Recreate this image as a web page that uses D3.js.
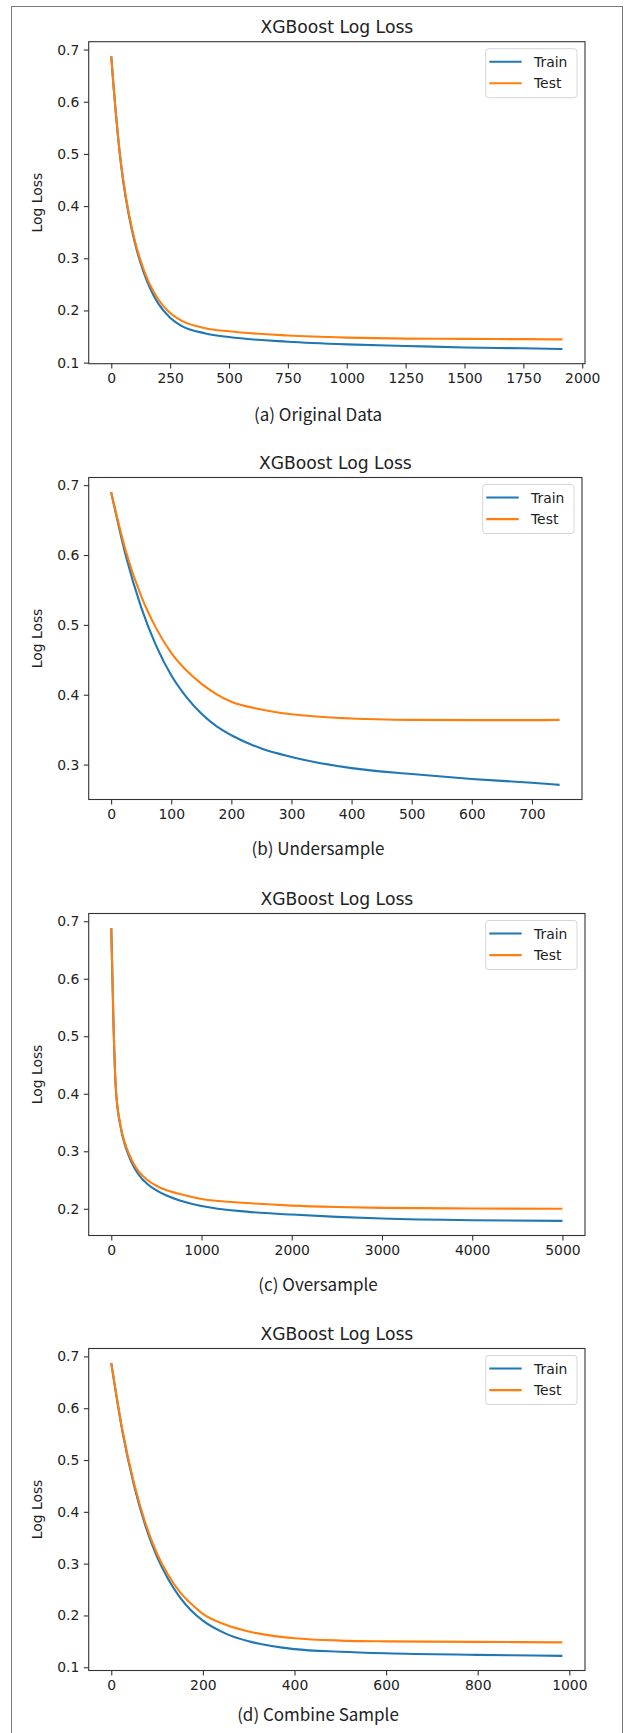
<!DOCTYPE html>
<html>
<head>
<meta charset="utf-8">
<script src="https://cdn.jsdelivr.net/npm/d3@7"></script>
<style>
  body { margin: 0; background: #fff; }
  svg { display: block; }
  text { font-family: "DejaVu Sans", sans-serif; fill: #222; }
  .caption { font-family: "Noto Sans CJK KR", "Noto Sans", sans-serif; }
</style>
</head>
<body>
<svg id="fig" width="624" height="1733"></svg>
<script>
// values (iteration, log loss)
var iterA  = [0, 10, 20, 35, 50, 75, 100, 125, 150, 175, 200, 250, 300, 400, 500, 750, 1000, 1250, 1500, 1750, 1916];
var trainA = [0.687, 0.628, 0.575, 0.505, 0.450, 0.382, 0.330, 0.290, 0.258, 0.233, 0.213, 0.186, 0.170, 0.156, 0.149, 0.140, 0.135, 0.132, 0.129, 0.1275, 0.126];
var testA  = [0.687, 0.629, 0.577, 0.507, 0.453, 0.385, 0.334, 0.295, 0.264, 0.240, 0.221, 0.195, 0.180, 0.166, 0.160, 0.152, 0.148, 0.146, 0.1455, 0.145, 0.1445];

var iterB  = [0, 25, 50, 75, 100, 125, 150, 175, 200, 250, 300, 400, 500, 600, 700, 746];
var trainB = [0.690, 0.597, 0.525, 0.470, 0.428, 0.397, 0.373, 0.355, 0.342, 0.323, 0.311, 0.295, 0.2865, 0.2795, 0.274, 0.271];
var testB  = [0.690, 0.604, 0.541, 0.495, 0.460, 0.435, 0.416, 0.401, 0.390, 0.379, 0.372, 0.366, 0.364, 0.3636, 0.3636, 0.364];

var iterC  = [0, 25, 50, 100, 150, 200, 250, 300, 400, 500, 600, 750, 1000, 1500, 2000, 2500, 3000, 4000, 5000];
var trainC = [0.688, 0.520, 0.410, 0.345, 0.312, 0.290, 0.273, 0.260, 0.243, 0.232, 0.224, 0.215, 0.205, 0.195, 0.190, 0.186, 0.183, 0.180, 0.179];
var testC  = [0.688, 0.521, 0.412, 0.347, 0.315, 0.294, 0.278, 0.266, 0.250, 0.240, 0.233, 0.226, 0.217, 0.210, 0.2055, 0.203, 0.2015, 0.2005, 0.200];

var iterD  = [0, 25, 50, 75, 100, 125, 150, 175, 200, 250, 300, 350, 400, 500, 600, 800, 985];
var trainD = [0.687, 0.552, 0.450, 0.372, 0.313, 0.269, 0.235, 0.209, 0.190, 0.165, 0.150, 0.141, 0.135, 0.130, 0.127, 0.124, 0.122];
var testD  = [0.687, 0.555, 0.454, 0.377, 0.319, 0.277, 0.245, 0.222, 0.203, 0.182, 0.169, 0.161, 0.156, 0.1515, 0.150, 0.149, 0.148];

var xTicksA = [0, 250, 500, 750, 1000, 1250, 1500, 1750, 2000];
var xTicksB = [0, 100, 200, 300, 400, 500, 600, 700];
var xTicksC = [0, 1000, 2000, 3000, 4000, 5000];
var xTicksD = [0, 200, 400, 600, 800, 1000];
var yTicksA = [0.1, 0.2, 0.3, 0.4, 0.5, 0.6, 0.7];
var yTicksB = [0.3, 0.4, 0.5, 0.6, 0.7];
var yTicksC = [0.2, 0.3, 0.4, 0.5, 0.6, 0.7];
var yTicksD = [0.1, 0.2, 0.3, 0.4, 0.5, 0.6, 0.7];

var captions = ['(a) Original Data', '(b) Undersample', '(c) Oversample', '(d) Combine Sample'];
var seriesNames = ['Train', 'Test'];
var colors = ['#1f77b4', '#ff7f0e'];
var title = 'XGBoost Log Loss';

var panels = [
  { iter: iterA, train: trainA, test: testA, xt: xTicksA, yt: yTicksA },
  { iter: iterB, train: trainB, test: testB, xt: xTicksB, yt: yTicksB },
  { iter: iterC, train: trainC, test: testC, xt: xTicksC, yt: yTicksC },
  { iter: iterD, train: trainD, test: testD, xt: xTicksD, yt: yTicksD }
];

// layout of each axes box in the page
var tops = [41.7, 477.5, 913.5, 1348.5];
var rights = [585, 582, 585, 585];
var captionY = [421, 855, 1291, 1721];
var left = 88.7, plotH = 322;

var svg = d3.select('#fig');

// outer frame around the whole figure
svg.append('rect')
  .attr('x', 11.5).attr('y', 6.5)
  .attr('width', 611).attr('height', 1740)
  .attr('fill', 'none').attr('stroke', '#7a7a7a').attr('stroke-width', 1);

// pad a domain by 5% on each side, like matplotlib's autoscale
function padded(ext) {
  var r = ext[1] - ext[0];
  return [ext[0] - 0.05 * r, ext[1] + 0.05 * r];
}

panels.forEach(function(p, i) {
  var top = tops[i], right = rights[i], bottom = top + plotH;
  var x = d3.scaleLinear().domain(padded(d3.extent(p.iter))).range([left, right]);
  var y = d3.scaleLinear().domain(padded(d3.extent(p.train.concat(p.test)))).range([bottom, top]);

  var g = svg.append('g');

  var line = d3.line()
    .x(function(d) { return x(d[0]); })
    .y(function(d) { return y(d[1]); })
    .curve(d3.curveMonotoneX);

  [p.train, p.test].forEach(function(vals, k) {
    g.append('path')
      .datum(p.iter.map(function(it, j) { return [it, vals[j]]; }))
      .attr('d', line)
      .attr('fill', 'none')
      .attr('stroke', colors[k])
      .attr('stroke-width', 2.1)
      .attr('stroke-linejoin', 'round');
  });

  var xAxis = d3.axisBottom(x).tickValues(p.xt).tickSize(4.9).tickPadding(4.5).tickFormat(d3.format('d'));
  var yAxis = d3.axisLeft(y).tickValues(p.yt).tickSize(4.9).tickPadding(4.5).tickFormat(d3.format('.1f'));

  var gx = g.append('g').attr('transform', 'translate(0,' + bottom + ')').call(xAxis);
  var gy = g.append('g').attr('transform', 'translate(' + left + ',0)').call(yAxis);
  [gx, gy].forEach(function(a) {
    a.select('.domain').remove();
    a.selectAll('line').attr('stroke', '#333').attr('stroke-width', 1.1);
    a.selectAll('text').attr('font-size', '13.9px').attr('fill', '#222')
      .style('font-family', '"DejaVu Sans", sans-serif');
  });

  // spines
  g.append('rect')
    .attr('x', left).attr('y', top)
    .attr('width', right - left).attr('height', plotH)
    .attr('fill', 'none').attr('stroke', '#333').attr('stroke-width', 1.1);

  g.append('text')
    .attr('x', (left + right) / 2).attr('y', top - 8.3)
    .attr('text-anchor', 'middle').attr('font-size', '17.2px')
    .text(title);

  g.append('text')
    .attr('transform', 'translate(42,' + (top + plotH / 2) + ') rotate(-90)')
    .attr('text-anchor', 'middle').attr('font-size', '13.9px')
    .text('Log Loss');

  // legend
  var lg = g.append('g').attr('transform', 'translate(' + right + ',' + top + ')');
  lg.append('rect')
    .attr('x', -99.3).attr('y', 7).attr('width', 91.3).attr('height', 49)
    .attr('rx', 3).attr('fill', '#fff').attr('stroke', '#d6d6d6').attr('stroke-width', 1);
  seriesNames.forEach(function(name, k) {
    var ly = 20 + k * 21.6;
    lg.append('line')
      .attr('x1', -95.7).attr('x2', -63.3).attr('y1', ly).attr('y2', ly)
      .attr('stroke', colors[k]).attr('stroke-width', 2.1);
    lg.append('text')
      .attr('x', -51).attr('y', ly + 5)
      .attr('font-size', '13.9px')
      .text(name);
  });

  svg.append('text')
    .attr('class', 'caption')
    .attr('x', 318).attr('y', captionY[i])
    .attr('text-anchor', 'middle').attr('font-size', '17px')
    .text(captions[i]);
});
</script>
</body>
</html>
